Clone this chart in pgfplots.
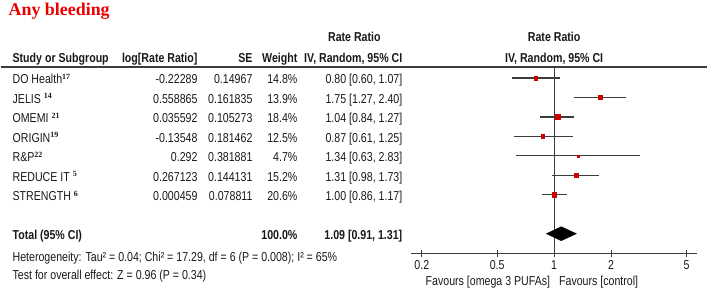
\documentclass[border=0pt]{standalone}
\usepackage{pgfplots}
\pgfplotsset{compat=1.18}
\usepackage{fontspec}
\setmainfont{Liberation Sans}[FakeStretch=0.82]
\newfontfamily\titlefont{Liberation Serif}
\definecolor{sqred}{RGB}{204,0,0}
\definecolor{ttlred}{RGB}{235,0,0}
\definecolor{lngray}{RGB}{60,60,60}
\definecolor{txt}{RGB}{25,25,25}
\newcommand\sr[1]{\raisebox{4.6bp}{\titlefont\fontsize{8}{8}\selectfont\bfseries #1}}
\newcommand\fs{\fontsize{13}{13}\selectfont}
\newcommand\row[6]{%
  \node[anchor=base west] at (12,#1) {#2};
  \node[anchor=base east] at (197,#1) {#3};
  \node[anchor=base east] at (252,#1) {#4};
  \node[anchor=base east] at (297,#1) {#5};
  \node[anchor=base east] at (402,#1) {#6};
}
\pgfplotstableread{
rr y ms
0.80 1 1.9
1.75 2 2.1
1.04 3 2.5
0.87 4 1.9
1.34 5 1.0
1.31 6 2.0
1.00 7 2.4
}\pttable
\begin{document}
\begin{tikzpicture}[x=1bp,y=1bp, every node/.style={inner sep=0pt, outer sep=0pt, font=\fs, text=txt}]
\path (0,0) rectangle (709,295);
\node[anchor=base west, font=\titlefont\fontsize{18}{18}\selectfont\bfseries, text=ttlred] at (8,279) {Any bleeding};
% headers
\node[anchor=base, font=\fs\bfseries] at (354,253) {Rate Ratio};
\node[anchor=base, font=\fs\bfseries] at (554,253) {Rate Ratio};
\node[anchor=base west, font=\fs\bfseries] at (12,232) {Study or Subgroup};
\node[anchor=base east, font=\fs\bfseries] at (197,232) {log[Rate Ratio]};
\node[anchor=base east, font=\fs\bfseries] at (252,232) {SE};
\node[anchor=base east, font=\fs\bfseries] at (297,232) {Weight};
\node[anchor=base east, font=\fs\bfseries] at (402,232) {IV, Random, 95\% CI};
\node[anchor=base, font=\fs\bfseries] at (554,232) {IV, Random, 95\% CI};
\draw[lngray, line width=1.3bp] (0,228) -- (707,228);
% rows
\row{211}{DO Health\sr{17}}{-0.22289}{0.14967}{14.8\%}{0.80 [0.60, 1.07]}
\row{191.5}{JELIS \sr{14}}{0.558865}{0.161835}{13.9\%}{1.75 [1.27, 2.40]}
\row{172}{OMEMI \sr{21}}{0.035592}{0.105273}{18.4\%}{1.04 [0.84, 1.27]}
\row{152.5}{ORIGIN\sr{19}}{-0.13548}{0.181462}{12.5\%}{0.87 [0.61, 1.25]}
\row{133}{R\&P\sr{22}}{0.292}{0.381881}{4.7\%}{1.34 [0.63, 2.83]}
\row{113.5}{REDUCE IT \sr{5}}{0.267123}{0.144131}{15.2\%}{1.31 [0.98, 1.73]}
\row{94}{STRENGTH \sr{6}}{0.000459}{0.078811}{20.6\%}{1.00 [0.86, 1.17]}
% total
\node[anchor=base west, font=\fs\bfseries] at (12,55) {Total (95\% CI)};
\node[anchor=base east, font=\fs\bfseries] at (297,55) {100.0\%};
\node[anchor=base east, font=\fs\bfseries] at (402,55) {1.09 [0.91, 1.31]};
\node[anchor=base west] at (12,33) {Heterogeneity: Tau² = 0.04; Chi² = 17.29, df = 6 (P = 0.008); I² = 65\%};
\node[anchor=base west] at (12,15) {Test for overall effect: Z = 0.96 (P = 0.34)};
\node[anchor=base east] at (550,9) {Favours [omega 3 PUFAs]};
\node[anchor=base west] at (559,9) {Favours [control]};
% forest axis
\begin{axis}[at={(411bp,41bp)}, anchor=south west, scale only axis,
  width=286bp, height=187bp,
  xmode=log, xmin=0.176, xmax=5.683, ymin=0.436, ymax=10.03, y dir=reverse,
  axis x line=bottom, axis y line=none, axis line style={-, lngray, line width=1.2bp},
  xtick={0.2,0.5,1,2,5}, xticklabels={0.2,0.5,1,2,5},
  tick align=center, major tick length=7bp,
  every tick/.style={lngray, line width=1bp},
  /pgf/number format/assume math mode=true,
  xticklabel style={font=\fs, text=txt, inner sep=0pt, yshift=-3bp},
  clip=false]
\addplot[draw=lngray, line width=1bp] coordinates {(1,0.436) (1,10.03)};
\pgfplotsset{cistyle/.style={draw=lngray, line width=1.3bp, mark=none}}
\addplot[cistyle] coordinates {(0.60,1) (1.07,1)};
\addplot[cistyle] coordinates {(1.27,2) (2.40,2)};
\addplot[cistyle] coordinates {(0.84,3) (1.27,3)};
\addplot[cistyle] coordinates {(0.61,4) (1.25,4)};
\addplot[cistyle] coordinates {(0.63,5) (2.83,5)};
\addplot[cistyle] coordinates {(0.98,6) (1.73,6)};
\addplot[cistyle] coordinates {(0.86,7) (1.17,7)};
\addplot[scatter, only marks, mark=square*,
  scatter/use mapped color={draw=sqred, fill=sqred},
  visualization depends on={\thisrow{ms} \as \msz},
  scatter/@pre marker code/.append style={/tikz/mark size=\msz}]
  table[x=rr, y=y] \pttable;
\addplot[fill=black, draw=black] coordinates {(0.91,9) (1.09,8.64) (1.31,9) (1.09,9.36)} -- cycle;
\end{axis}
\end{tikzpicture}
\end{document}
